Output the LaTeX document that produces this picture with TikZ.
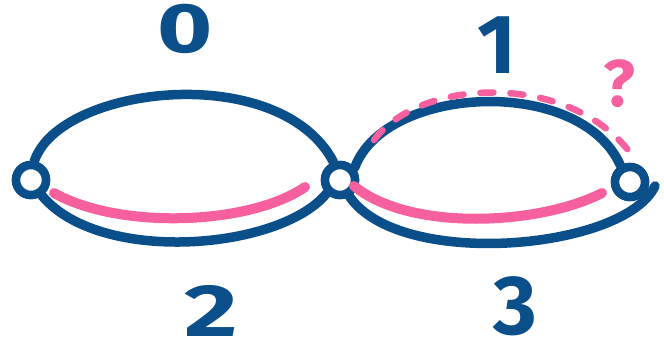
\documentclass[tikz,border=0pt]{standalone}
\usepackage{fontspec}
\setmainfont{Fira Sans}
\definecolor{inkblue}{HTML}{0B4F8A}
\definecolor{inkpink}{HTML}{F7609E}
\begin{document}
\begin{tikzpicture}[x=1pt,y=-1pt,
  vert/.style={circle,draw=inkblue,line width=8.5pt,fill=white,minimum size=30pt,inner sep=0pt},
  edge/.style={draw=inkblue,line width=9.5pt,line cap=round},
  walk/.style={draw=inkpink,line width=10pt,line cap=round},
  guess/.style={draw=inkpink,line width=6.5pt,line cap=round,dash pattern=on 13pt off 17pt},
  lbl/.style={text=inkblue,font=\fontsize{#1}{#1}\selectfont\bfseries,inner sep=0pt},
  lbl/.default=52]
\useasboundingbox (0,0) rectangle (664,361);
% vertices (placed first so edges can attach to them)
\node[vert] (A) at (31,180) {};
\node[vert] (B) at (340,180) {};
\node[vert] (C) at (630,182) {};
\coordinate (Cr) at (655,186);
% edges
\path[edge] (A.80) .. controls (60,85) and (280,60) .. (B.110);
\path[edge] (A.-55) .. controls (100,265) and (280,250) .. (B.-135);
\path[edge] (B.40) .. controls (385,85) and (580,75) .. (C.120);
\path[edge] (B.-60) .. controls (400,270) and (625,250) .. (Cr);
% redraw vertices on top
\node[vert] at (A) {};
\node[vert] at (B) {};
\node[vert] at (C) {};
% pink walk
\coordinate (p1) at (54,193);
\coordinate (p2) at (305,187);
\coordinate (p3) at (354,186);
\coordinate (p4) at (602,193);
\path[walk] (p1) .. controls (120,230) and (250,225) .. (p2);
\path[walk] (p3) .. controls (410,232) and (540,225) .. (p4);
\coordinate (d1) at (374,140);
\coordinate (d2) at (628,150);
\path[guess] (d1) .. controls (420,78) and (565,72) .. (d2);
% labels
\node[lbl=70,xscale=1.35,transform shape] (l0) at (185,29) {0};
\node[lbl=84] (l1) at (497,45) {1};
\node[lbl=74,xscale=1.4,transform shape] (l2) at (211,311) {2};
\node[lbl=84] (l3) at (515,306) {3};
\node[lbl=66,text=inkpink] (q) at (619,84) {?};
\end{tikzpicture}
\end{document}
